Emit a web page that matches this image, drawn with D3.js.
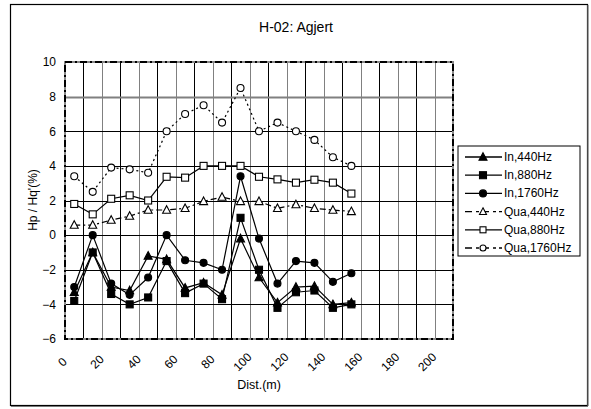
<!DOCTYPE html>
<html><head><meta charset="utf-8">
<script src="https://cdn.jsdelivr.net/npm/d3@7"></script>
<style>body{margin:0;background:#fff}svg{display:block;font-family:"Liberation Sans",Arial,sans-serif}</style>
</head><body>
<svg id="c" width="591" height="409"></svg>
<script>
const dist = [5,15,25,35,45,55,65,75,85,95,105,115,125,135,145,155];
const in440   = [-3.3,-1.0,-3.0,-3.2,-1.2,-1.4,-3.05,-2.75,-3.45,-0.2,-2.45,-3.9,-3.0,-2.95,-4.0,-3.9];
const in880   = [-3.8,-1.0,-3.4,-4.0,-3.6,-1.5,-3.35,-2.8,-3.7,1.0,-2.0,-4.2,-3.3,-3.2,-4.2,-4.0];
const in1760  = [-3.0,0.0,-2.8,-3.45,-2.45,0.0,-1.45,-1.6,-2.0,3.4,-0.2,-2.8,-1.5,-1.6,-2.7,-2.2];
const qua440  = [0.58,0.58,0.87,1.1,1.45,1.45,1.55,1.95,2.2,1.95,1.95,1.55,1.77,1.55,1.45,1.37];
const qua880  = [1.8,1.2,2.1,2.3,2.0,3.37,3.32,4.0,4.0,4.0,3.37,3.22,3.03,3.2,3.03,2.4];
const qua1760 = [3.4,2.5,3.9,3.8,3.6,6.0,7.0,7.5,6.5,8.5,6.0,6.5,6.0,5.5,4.5,4.0];
const seriesNames = ["In,440Hz","In,880Hz","In,1760Hz","Qua,440Hz","Qua,880Hz","Qua,1760Hz"];
const xTicks = [0,20,40,60,80,100,120,140,160,180,200];
const yTicks = [-6,-4,-2,0,2,4,6,8,10];

const series = [
  {name:seriesNames[0], v:in440,  m:"tri", fill:"#000", dash:null},
  {name:seriesNames[1], v:in880,  m:"sq",  fill:"#000", dash:null},
  {name:seriesNames[2], v:in1760, m:"cir", fill:"#000", dash:null},
  {name:seriesNames[3], v:qua440, m:"tri", fill:"#fff", dash:"6,3,2,3"},
  {name:seriesNames[4], v:qua880, m:"sq",  fill:"#fff", dash:null},
  {name:seriesNames[5], v:qua1760,m:"cir", fill:"#fff", dash:"2,3"}
];

const svg = d3.select("#c");
const L=65,R=453,T=62,B=339;
const x = d3.scaleLinear().domain([0,210]).range([L,R]);
const y = d3.scaleLinear().domain([-6,10]).range([B,T]);

// outer frame
svg.append("rect").attr("x",10.5).attr("y",4.5).attr("width",577).attr("height",401)
  .attr("fill","#fff").attr("stroke","#000").attr("stroke-width",1.2);
svg.append("line").attr("x1",588).attr("x2",588).attr("y1",5).attr("y2",406).attr("stroke","#777").attr("stroke-width",1.2);
svg.append("line").attr("x1",11).attr("x2",588).attr("y1",406.5).attr("y2",406.5).attr("stroke","#777").attr("stroke-width",1.2);

// title
svg.append("text").attr("x",296).attr("y",32).attr("text-anchor","middle")
  .attr("font-size",14).text("H-02: Agjert");

// grid
const g = svg.append("g");
d3.range(10,210,10).forEach(d=>{
  g.append("line").attr("x1",Math.round(x(d))+0.5).attr("x2",Math.round(x(d))+0.5).attr("y1",T).attr("y2",B)
   .attr("stroke", (d%20===0)?"#808080":"#000").attr("stroke-width",1);
});
yTicks.filter(d=>d>-6&&d<10).forEach(d=>{
  g.append("line").attr("x1",L).attr("x2",R).attr("y1",Math.round(y(d))+0.5).attr("y2",Math.round(y(d))+0.5)
   .attr("stroke", d===8?"#808080":"#000").attr("stroke-width", d===8?2:1);
});

// plot frame
svg.append("rect").attr("x",L).attr("y",T).attr("width",R-L).attr("height",B-T)
  .attr("fill","none").attr("stroke","#888").attr("stroke-width",2);
svg.append("rect").attr("x",L).attr("y",T).attr("width",R-L).attr("height",B-T)
  .attr("fill","none").attr("stroke","#000").attr("stroke-width",2).attr("stroke-dasharray","7,3,2,3");

// axes labels
const yAxis = d3.axisLeft(y).tickValues(yTicks).tickSize(0).tickPadding(0);
const ya = svg.append("g").attr("transform",`translate(${L-9},0)`).call(yAxis);
ya.select(".domain").remove();
ya.selectAll("text").attr("font-size",12).attr("font-family","Liberation Sans, Arial, sans-serif").attr("fill","#000");

const xa = svg.append("g");
xTicks.forEach(d=>{
  const s = String(d);
  const w = s.length*6.7;
  xa.append("text").attr("transform",`translate(${x(d)-w*0.36},${362}) rotate(-45)`)
    .attr("text-anchor","middle").attr("dominant-baseline","central").attr("font-size",12).text(s);
});
svg.append("text").attr("x",259).attr("y",389).attr("text-anchor","middle").attr("font-size",12.5).text("Dist.(m)");
svg.append("text").attr("transform","translate(37,200) rotate(-90)").attr("text-anchor","middle")
  .attr("font-size",12).text("Hp / Hq'(%)");

// markers
function marker(sel, type, cx, cy, fill, size){
  const s = size||8;
  if(type==="tri"){
    const h=s*0.9;
    sel.append("path").attr("d",`M${cx},${cy-h*0.6}L${cx+s/2},${cy+h*0.45}L${cx-s/2},${cy+h*0.45}Z`)
      .attr("fill",fill).attr("stroke","#000").attr("stroke-width",1.1);
  } else if(type==="sq"){
    sel.append("rect").attr("x",cx-s/2+0.5).attr("y",cy-s/2+0.5).attr("width",s-1).attr("height",s-1)
      .attr("fill",fill).attr("stroke","#000").attr("stroke-width",1.1);
  } else {
    sel.append("circle").attr("cx",cx).attr("cy",cy).attr("r",s/2-0.5)
      .attr("fill",fill).attr("stroke","#000").attr("stroke-width",1.1);
  }
}

const line = d3.line().x(d=>x(d[0])).y(d=>y(d[1]));
series.forEach(s=>{
  const pts = dist.map((d,i)=>[d,s.v[i]]);
  const gg = svg.append("g");
  gg.append("path").attr("d",line(pts)).attr("fill","none").attr("stroke","#000").attr("stroke-width",1.2)
    .attr("stroke-dasharray",s.dash);
  pts.forEach(p=>marker(gg,s.m,x(p[0]),y(p[1]),s.fill,8));
});

// legend
const lg = svg.append("g");
lg.append("rect").attr("x",458).attr("y",146).attr("width",122).attr("height",110)
  .attr("fill","#fff").attr("stroke","#000").attr("stroke-width",1);
series.forEach((s,i)=>{
  const yy = 157 + i*18.2;
  const dash = s.dash ? "7,4,3,3" : null;
  lg.append("line").attr("x1",465).attr("x2",502).attr("y1",yy).attr("y2",yy)
    .attr("stroke","#000").attr("stroke-width",1.3).attr("stroke-dasharray",dash);
  marker(lg,s.m,483,yy,s.fill,s.fill==="#fff"?7:8);
  lg.append("text").attr("x",504).attr("y",yy).attr("dominant-baseline","central").attr("font-size",12).text(s.name);
});
</script>
</body></html>
